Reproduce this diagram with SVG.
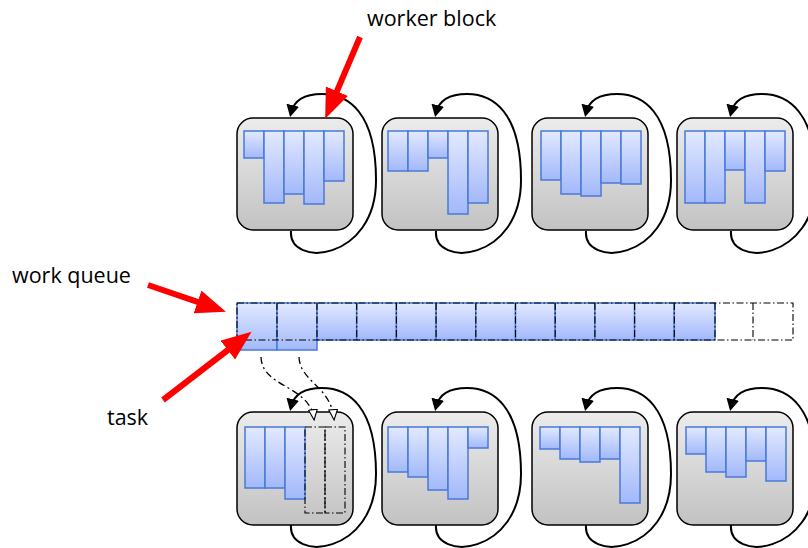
<svg xmlns="http://www.w3.org/2000/svg" width="808" height="548" viewBox="0 0 808 548">
<defs>
<linearGradient id="gBox" x1="0" y1="0" x2="0" y2="1"><stop offset="0" stop-color="#ececec"/><stop offset="1" stop-color="#c2c2c2"/></linearGradient>
<linearGradient id="gBar" x1="0" y1="0" x2="0" y2="1"><stop offset="0" stop-color="#e2e9ff"/><stop offset="1" stop-color="#a2b8fa"/></linearGradient>
<marker id="mBlack" markerUnits="userSpaceOnUse" markerWidth="13" markerHeight="13" refX="8" refY="6.5" orient="auto" viewBox="0 0 13 13"><path d="M0,0 L12,6.5 L0,13 z" fill="#000"/></marker>
<marker id="mHollow" markerUnits="userSpaceOnUse" markerWidth="12" markerHeight="10" refX="10" refY="5" orient="auto" viewBox="0 0 12 10"><path d="M0.6,0.6 L11,5 L0.6,9.4 z" fill="#fff" stroke="#000" stroke-width="1.1"/></marker>
<marker id="mRed" markerUnits="userSpaceOnUse" markerWidth="32" markerHeight="25" refX="10" refY="12" orient="auto" viewBox="0 0 32 25"><path d="M0,0 L30,12 L0,24 z" fill="#ff0000"/></marker>
</defs>
<style>
.box{fill:url(#gBox);stroke:#000;stroke-width:1.5}
.bar{fill:url(#gBar);stroke:#4a7ad8;stroke-width:1.5}
.dd{fill:none;stroke:#000;stroke-width:1.1;stroke-dasharray:7 2.5 1.5 2.5}
.loop{fill:none;stroke:#000;stroke-width:2;marker-end:url(#mBlack)}
.move{fill:none;stroke:#000;stroke-width:1.3;stroke-dasharray:7 3.5 2 3.5;marker-end:url(#mHollow)}
.red{fill:none;stroke:#ff0000;stroke-width:6;marker-end:url(#mRed)}
.lbl{font-family:"Open Sans","Liberation Sans",sans-serif;font-size:21.5px;fill:#000}
</style>

<g id="labels">
<text class="lbl" x="367" y="26">worker block</text>
<text class="lbl" x="12" y="283">work queue</text>
<text class="lbl" x="107" y="425">task</text>
</g>

<g id="block-top-1">
<rect class="box" x="237" y="118" width="116" height="112" rx="16"/>
<rect class="bar" x="244" y="131" width="20" height="27"/>
<rect class="bar" x="264" y="131" width="20" height="72"/>
<rect class="bar" x="284" y="131" width="20" height="63"/>
<rect class="bar" x="304" y="131" width="20" height="73"/>
<rect class="bar" x="324" y="131" width="20" height="50"/>
</g>
<g id="block-top-2">
<rect class="box" x="382" y="118" width="116" height="112" rx="16"/>
<rect class="bar" x="388" y="131" width="20" height="40"/>
<rect class="bar" x="408" y="131" width="20" height="40"/>
<rect class="bar" x="428" y="131" width="20" height="27"/>
<rect class="bar" x="448" y="131" width="20" height="83"/>
<rect class="bar" x="468" y="131" width="20" height="72"/>
</g>
<g id="block-top-3">
<rect class="box" x="532" y="118" width="116" height="112" rx="16"/>
<rect class="bar" x="541" y="131" width="20" height="49"/>
<rect class="bar" x="561" y="131" width="20" height="63"/>
<rect class="bar" x="581" y="131" width="20" height="65"/>
<rect class="bar" x="601" y="131" width="20" height="52"/>
<rect class="bar" x="621" y="131" width="20" height="53"/>
</g>
<g id="block-top-4">
<rect class="box" x="677" y="118" width="116" height="112" rx="16"/>
<rect class="bar" x="685" y="131" width="20" height="72"/>
<rect class="bar" x="705" y="131" width="20" height="72"/>
<rect class="bar" x="725" y="131" width="20" height="39"/>
<rect class="bar" x="745" y="131" width="20" height="72"/>
<rect class="bar" x="765" y="131" width="20" height="40"/>
</g>

<g id="work-queue">
<rect class="bar" x="237" y="303" width="40" height="47"/>
<rect class="bar" x="277" y="303" width="40" height="47"/>
<rect class="bar" x="317" y="303" width="39.7" height="37"/>
<rect class="bar" x="356.7" y="303" width="39.7" height="37"/>
<rect class="bar" x="396.4" y="303" width="39.7" height="37"/>
<rect class="bar" x="436.1" y="303" width="39.7" height="37"/>
<rect class="bar" x="475.8" y="303" width="39.7" height="37"/>
<rect class="bar" x="515.5" y="303" width="39.7" height="37"/>
<rect class="bar" x="555.2" y="303" width="39.7" height="37"/>
<rect class="bar" x="594.9" y="303" width="39.7" height="37"/>
<rect class="bar" x="634.6" y="303" width="39.7" height="37"/>
<rect class="bar" x="674.3" y="303" width="40.7" height="37"/>
<rect class="dd" x="237" y="303" width="556" height="37"/>
<path class="dd" d="M277,303V340 M317,303V340 M356.7,303V340 M396.4,303V340 M436.1,303V340 M475.8,303V340 M515.5,303V340 M555.2,303V340 M594.9,303V340 M634.6,303V340 M674.3,303V340 M715,303V340 M753,303V340"/>
</g>

<g id="block-bot-1">
<rect class="box" x="237" y="412" width="116" height="113" rx="16"/>
<rect class="bar" x="245" y="427" width="20" height="61"/>
<rect class="bar" x="265" y="427" width="20" height="61"/>
<rect class="bar" x="285" y="427" width="20" height="72"/>
<rect class="dd" x="305" y="427" width="20" height="86"/>
<rect class="dd" x="325" y="427" width="20" height="86"/>
</g>
<g id="block-bot-2">
<rect class="box" x="382" y="412" width="116" height="113" rx="16"/>
<rect class="bar" x="388" y="427" width="20" height="45"/>
<rect class="bar" x="408" y="427" width="20" height="50"/>
<rect class="bar" x="428" y="427" width="20" height="63"/>
<rect class="bar" x="448" y="427" width="20" height="72"/>
<rect class="bar" x="468" y="427" width="20" height="21"/>
</g>
<g id="block-bot-3">
<rect class="box" x="532" y="412" width="116" height="113" rx="16"/>
<rect class="bar" x="540" y="427" width="20" height="22"/>
<rect class="bar" x="560" y="427" width="20" height="32"/>
<rect class="bar" x="580" y="427" width="20" height="35"/>
<rect class="bar" x="600" y="427" width="20" height="32"/>
<rect class="bar" x="620" y="427" width="20" height="76"/>
</g>
<g id="block-bot-4">
<rect class="box" x="677" y="412" width="116" height="113" rx="16"/>
<rect class="bar" x="686" y="427" width="20" height="27"/>
<rect class="bar" x="706" y="427" width="20" height="45"/>
<rect class="bar" x="726" y="427" width="20" height="50"/>
<rect class="bar" x="746" y="427" width="20" height="34"/>
<rect class="bar" x="766" y="427" width="20" height="54"/>
</g>

<g id="connectors">
<path class="loop" d="M291,231 C288,268 376,262 376,180 C376,112 348,94 322,94 C305,94 294,100 291,113"/>
<path class="loop" transform="translate(145,0)" d="M291,231 C288,268 376,262 376,180 C376,112 348,94 322,94 C305,94 294,100 291,113"/>
<path class="loop" transform="translate(295,0)" d="M291,231 C288,268 376,262 376,180 C376,112 348,94 322,94 C305,94 294,100 291,113"/>
<path class="loop" transform="translate(440,0)" d="M291,231 C288,268 376,262 376,180 C376,112 348,94 322,94 C305,94 294,100 291,113"/>
<path class="loop" transform="translate(0,294)" d="M291,231 C288,268 376,262 376,180 C376,112 348,94 322,94 C305,94 294,100 291,113"/>
<path class="loop" transform="translate(145,294)" d="M291,231 C288,268 376,262 376,180 C376,112 348,94 322,94 C305,94 294,100 291,113"/>
<path class="loop" transform="translate(295,294)" d="M291,231 C288,268 376,262 376,180 C376,112 348,94 322,94 C305,94 294,100 291,113"/>
<path class="loop" transform="translate(440,294)" d="M291,231 C288,268 376,262 376,180 C376,112 348,94 322,94 C305,94 294,100 291,113"/>
<path class="move" d="M261,357 C262,388 310,385 314,419"/>
<path class="move" d="M299,357 C300,382 331,386 334,419"/>
<path class="red" d="M360,37 L333,100.4"/>
<path class="red" d="M148,285 L207,305.2"/>
<path class="red" d="M163,400 L235.7,344"/>
</g>
</svg>
